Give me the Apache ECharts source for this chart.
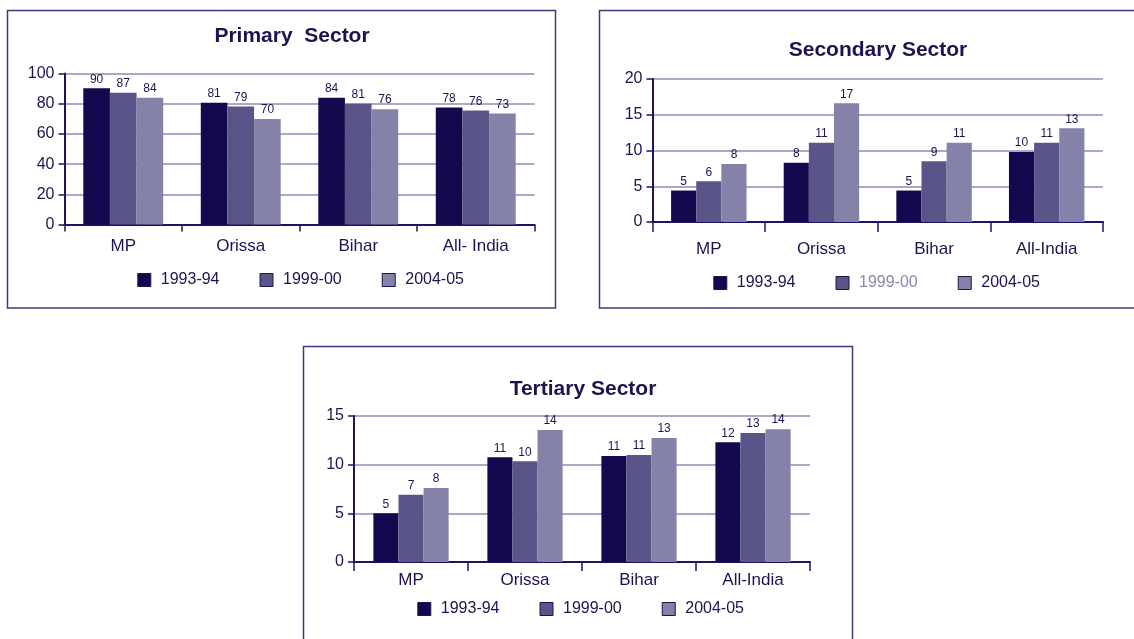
<!DOCTYPE html>
<html>
<head>
<meta charset="utf-8">
<script src="https://cdn.jsdelivr.net/npm/echarts@6/dist/echarts.min.js"></script>
<style>
html,body{margin:0;padding:0;background:#fff;}
#c{width:1134px;height:639px;}
</style>
</head>
<body>
<div id="c"></div>
<script>
// ---- data ----
const years = ['1993-94', '1999-00', '2004-05'];
const primaryCategories = ['MP', 'Orissa', 'Bihar', 'All- India'];
const categories = ['MP', 'Orissa', 'Bihar', 'All-India'];

// Primary sector (bar heights, printed labels)
const primary9394 = [90.2, 80.7, 84.0, 77.5];
const primary9900 = [87.3, 78.1, 79.9, 75.5];
const primary0405 = [84.0, 69.8, 76.4, 73.5];
const primaryLbl9394 = [90, 81, 84, 78];
const primaryLbl9900 = [87, 79, 81, 76];
const primaryLbl0405 = [84, 70, 76, 73];
const primaryTicks = [0, 20, 40, 60, 80, 100];

// Secondary sector
const secondary9394 = [4.4, 8.3, 4.4, 9.8];
const secondary9900 = [5.7, 11.1, 8.5, 11.1];
const secondary0405 = [8.1, 16.6, 11.1, 13.1];
const secondaryLbl9394 = [5, 8, 5, 10];
const secondaryLbl9900 = [6, 11, 9, 11];
const secondaryLbl0405 = [8, 17, 11, 13];
const secondaryTicks = [0, 5, 10, 15, 20];

// Tertiary sector
const tertiary9394 = [5.0, 10.75, 10.9, 12.3];
const tertiary9900 = [6.9, 10.35, 11.0, 13.25];
const tertiary0405 = [7.6, 13.55, 12.75, 13.65];
const tertiaryLbl9394 = [5, 11, 11, 12];
const tertiaryLbl9900 = [7, 10, 11, 13];
const tertiaryLbl0405 = [8, 14, 13, 14];
const tertiaryTicks = [0, 5, 10, 15];

const titles = ['Primary  Sector', 'Secondary Sector', 'Tertiary Sector'];

// ---- styles ----
const FONT = '"Liberation Sans", Arial, sans-serif';
const TXT = '#1a1450';
const COLORS = ['#14094f', '#5a5589', '#8482a8'];
const GRID = '#8e8cb8';
const AXIS = '#1c1460';
const BOX = '#3c3a78';

const chart = echarts.init(document.getElementById('c'), null, {renderer: 'canvas'});

const grids = [
  {left: 64.5, top: 73.5, width: 470, height: 151},
  {left: 652.5, top: 79, width: 450.5, height: 143},
  {left: 354, top: 416, width: 456, height: 146}
];
const tickSets = [primaryTicks, secondaryTicks, tertiaryTicks];
const catSets = [primaryCategories, categories, categories];
const labelMargins = [13, 19, 10];
const xTickLens = [7, 10, 9];
const catGaps = ['32%', '33%', '34%'];
const dataSets = [
  [[primary9394, primaryLbl9394], [primary9900, primaryLbl9900], [primary0405, primaryLbl0405]],
  [[secondary9394, secondaryLbl9394], [secondary9900, secondaryLbl9900], [secondary0405, secondaryLbl0405]],
  [[tertiary9394, tertiaryLbl9394], [tertiary9900, tertiaryLbl9900], [tertiary0405, tertiaryLbl0405]]
];
const titlePos = [[292, 25.5], [878, 39.5], [583, 378.5]];
const legendPos = [[137.3, 272], [713.3, 275], [417.3, 601]];

const xAxes = [], yAxes = [], series = [], titleArr = [], legends = [];
for (let g = 0; g < 3; g++) {
  const ticks = tickSets[g];
  xAxes.push({
    type: 'category', gridIndex: g, data: catSets[g],
    axisLine: {lineStyle: {color: AXIS, width: 2}},
    axisTick: {show: true, length: xTickLens[g], lineStyle: {color: AXIS, width: 1.5}},
    axisLabel: {color: TXT, fontFamily: FONT, fontSize: 17, margin: labelMargins[g]}
  });
  yAxes.push({
    type: 'value', gridIndex: g, min: ticks[0], max: ticks[ticks.length - 1],
    interval: ticks[1] - ticks[0],
    axisLine: {show: true, lineStyle: {color: AXIS, width: 2}},
    axisTick: {show: true, length: 6, lineStyle: {color: AXIS, width: 1.5}},
    axisLabel: {color: TXT, fontFamily: FONT, fontSize: 16, margin: 10},
    splitLine: {show: true, lineStyle: {color: GRID, width: 1.5}}
  });
  for (let s = 0; s < 3; s++) {
    const vals = dataSets[g][s][0];
    const lbls = dataSets[g][s][1];
    series.push({
      type: 'bar', name: years[s], xAxisIndex: g, yAxisIndex: g,
      data: vals, barGap: '0%', barCategoryGap: catGaps[g],
      itemStyle: {color: COLORS[s]},
      label: {
        show: true, position: 'top', distance: 3,
        color: TXT, fontFamily: FONT, fontSize: 12,
        formatter: (p) => String(lbls[p.dataIndex])
      },
      emphasis: {disabled: true}
    });
  }
  titleArr.push({
    text: titles[g], left: titlePos[g][0], top: titlePos[g][1], textAlign: 'center', padding: 0,
    textStyle: {color: TXT, fontFamily: FONT, fontSize: 21, fontWeight: 'bold'}
  });
  legends.push({
    left: legendPos[g][0], top: legendPos[g][1], padding: 0,
    orient: 'horizontal', itemWidth: 13, itemHeight: 13, itemGap: 40,
    icon: 'rect', selectedMode: false,
    itemStyle: {borderColor: TXT, borderWidth: 1},
    textStyle: {color: TXT, fontFamily: FONT, fontSize: 16, padding: [0, 0, 0, 5]},
    data: years.map((y, i) => (g === 1 && i === 1)
      ? {name: y, textStyle: {color: '#8a88aa'}}
      : {name: y})
  });
}

chart.setOption({
  animation: false,
  backgroundColor: '#ffffff',
  title: titleArr,
  legend: legends,
  grid: grids,
  xAxis: xAxes,
  yAxis: yAxes,
  series: series,
  graphic: [
    {type: 'rect', shape: {x: 7.5, y: 10.5, width: 548, height: 297.5}, style: {fill: 'none', stroke: BOX, lineWidth: 1.5}, z: -1},
    {type: 'rect', shape: {x: 599.5, y: 10.5, width: 545, height: 297.5}, style: {fill: 'none', stroke: BOX, lineWidth: 1.5}, z: -1},
    {type: 'rect', shape: {x: 303.5, y: 346.5, width: 549, height: 310}, style: {fill: 'none', stroke: BOX, lineWidth: 1.5}, z: -1}
  ]
});
</script>
</body>
</html>
